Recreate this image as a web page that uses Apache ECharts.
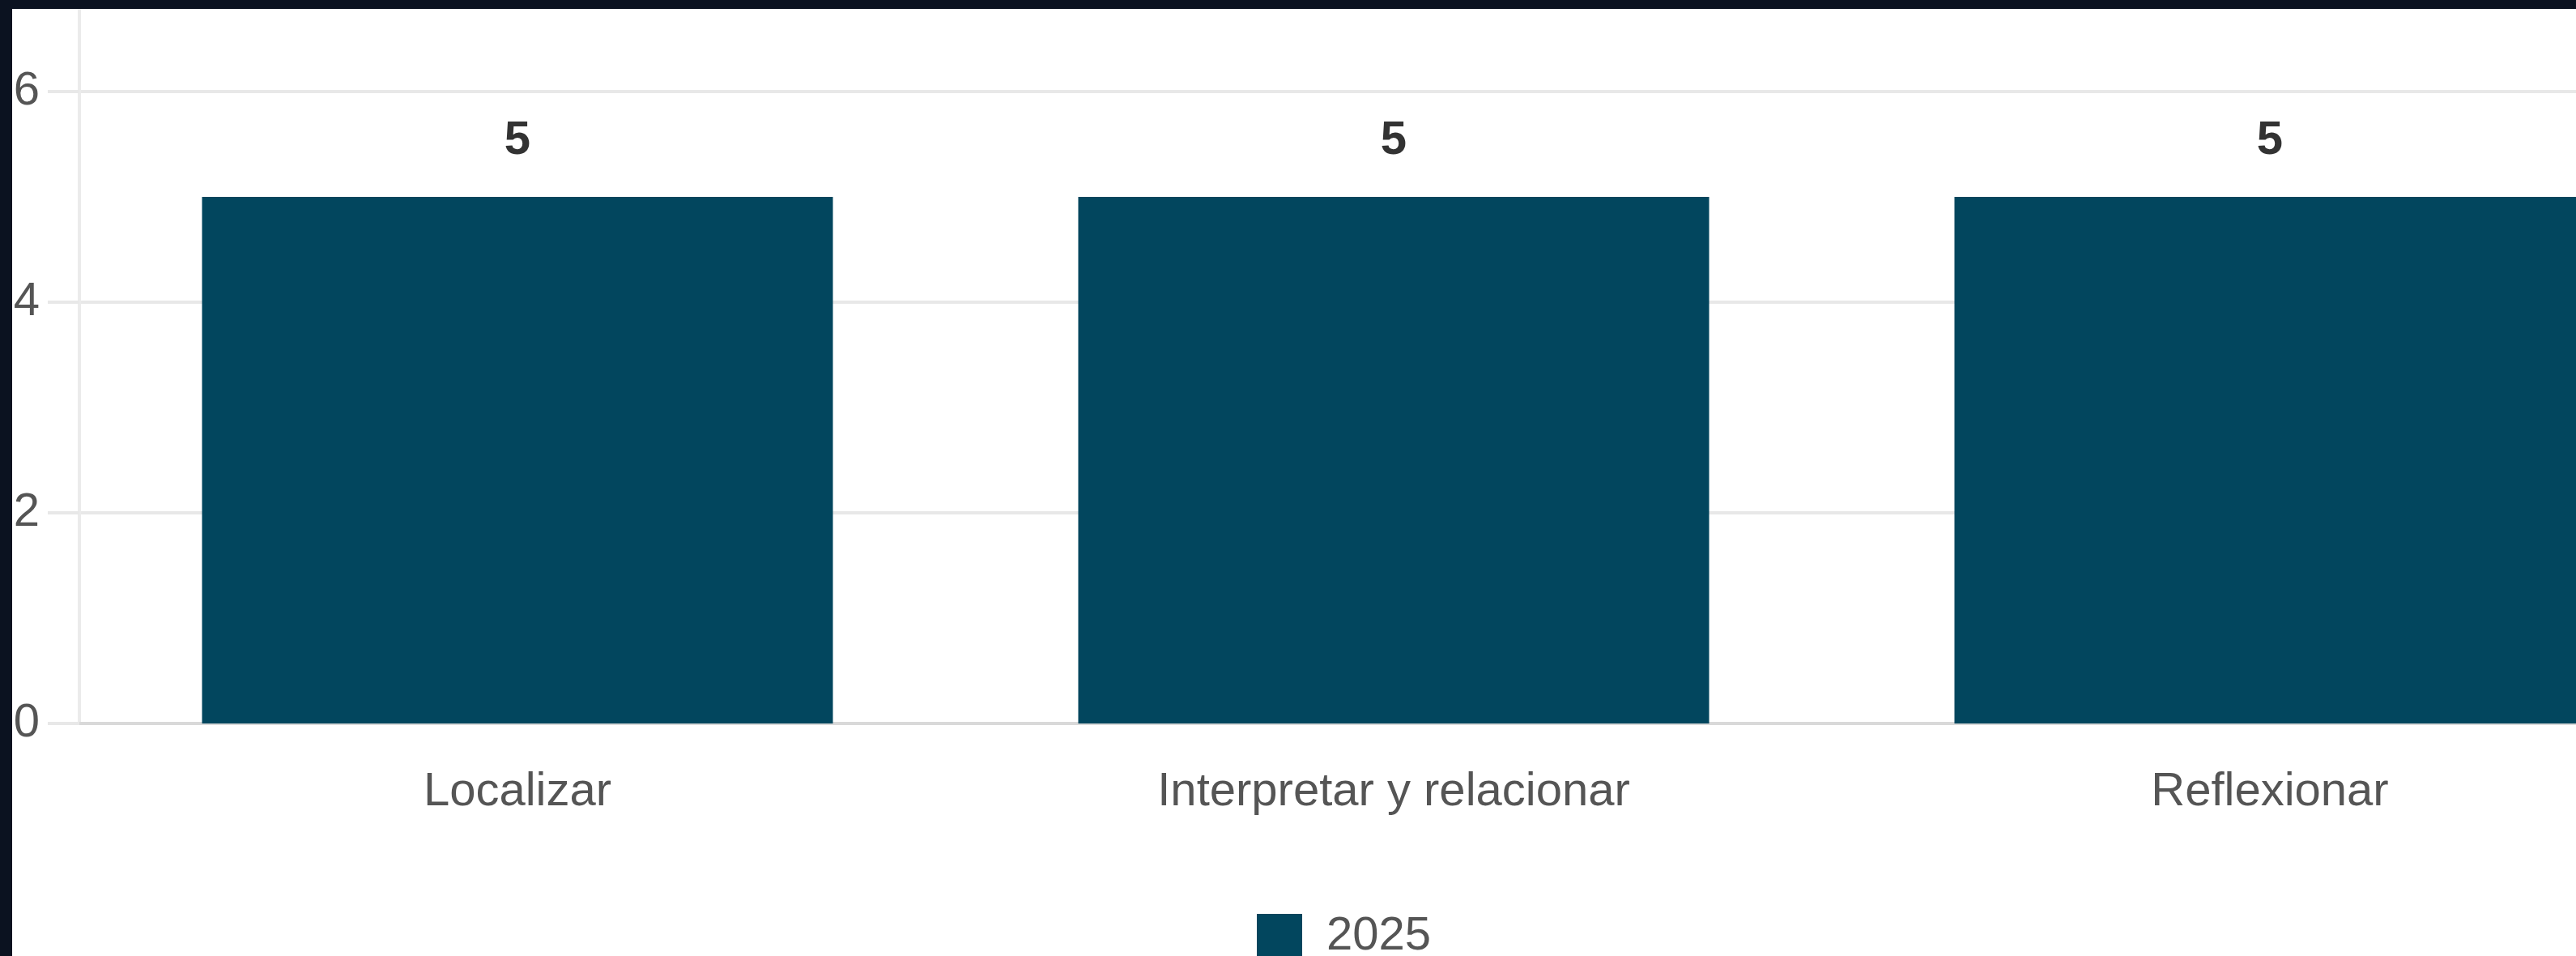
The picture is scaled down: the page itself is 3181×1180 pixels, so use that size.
<!DOCTYPE html>
<html>
<head>
<meta charset="utf-8">
<script src="https://cdn.jsdelivr.net/npm/echarts@6/dist/echarts.min.js"></script>
<style>
  html, body { margin: 0; padding: 0; background: #0b1220; width: 3181px; height: 1180px; overflow: hidden; }
  #chart { position: absolute; left: 15px; top: 11px; width: 3166px; height: 1169px; background: #ffffff; }
</style>
</head>
<body>
<div id="chart"></div>
<script>
const categories = ["Localizar", "Interpretar y relacionar", "Reflexionar"];
const seriesName = "2025";
const values2025 = [5, 5, 5];

const chart = echarts.init(document.getElementById('chart'), null, { renderer: 'canvas' });
const FONT = '"Liberation Sans", Arial, sans-serif';
const BAR = '#02465e';

chart.setOption({
  animation: false,
  backgroundColor: '#ffffff',
  textStyle: { fontFamily: FONT },
  grid: { left: 83, top: -158, height: 1040, width: 3246, containLabel: false, outerBoundsMode: 'none' },
  legend: {
    data: [seriesName],
    left: 1532,
    top: 1111,
    icon: 'rect',
    itemWidth: 56,
    itemHeight: 56,
    textStyle: { fontFamily: FONT, fontSize: 58, color: '#555555', lineHeight: 58, padding: [0, 0, 0, 25] }
  },
  xAxis: {
    type: 'category',
    data: categories,
    axisLine: { show: true, lineStyle: { color: '#d9d9d9', width: 4 } },
    axisTick: { show: false },
    axisLabel: { fontFamily: FONT, fontSize: 58, color: '#555555', lineHeight: 58, margin: 56, interval: 0 },
    splitLine: { show: false }
  },
  yAxis: {
    type: 'value',
    min: 0,
    max: 8,
    interval: 2,
    axisLine: { show: true, lineStyle: { color: '#ebebeb', width: 4 } },
    axisTick: { show: true, length: 39, lineStyle: { color: '#e8e8e8', width: 4 } },
    axisLabel: { fontFamily: FONT, fontSize: 58, color: '#555555', margin: 49 },
    splitLine: { show: true, lineStyle: { color: '#e8e8e8', width: 4 } }
  },
  series: [{
    name: seriesName,
    type: 'bar',
    data: values2025,
    barWidth: '72%',
    itemStyle: { color: BAR },
    label: {
      show: true,
      position: 'top',
      distance: 40,
      fontFamily: FONT,
      fontSize: 58,
      lineHeight: 58,
      fontWeight: 'bold',
      color: '#333333'
    }
  }]
});
</script>
</body>
</html>
